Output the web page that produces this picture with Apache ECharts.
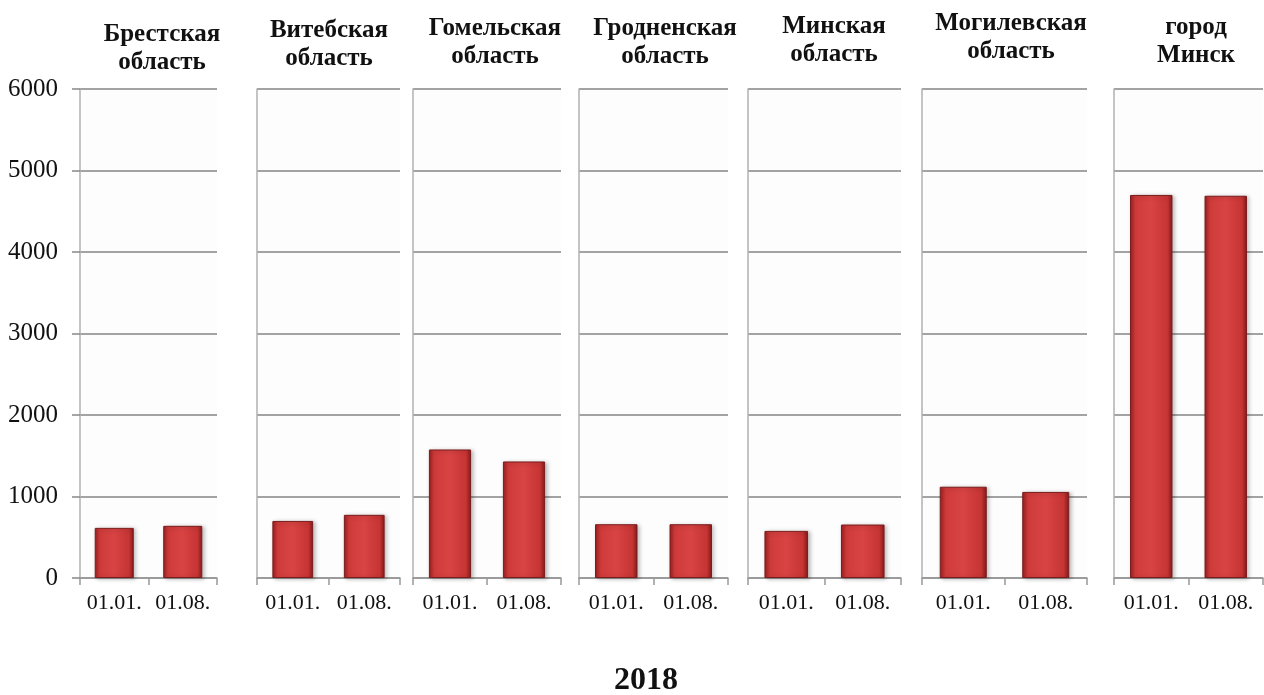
<!DOCTYPE html>
<html>
<head>
<meta charset="utf-8">
<script src="https://cdn.jsdelivr.net/npm/echarts@6/dist/echarts.min.js"></script>
<style>
  html, body { margin: 0; padding: 0; background: #fff; }
  #chart { width: 1264px; height: 695px; }
</style>
</head>
<body>
<div id="chart"></div>
<script>
const regions = ['Брестская\nобласть', 'Витебская\nобласть', 'Гомельская\nобласть', 'Гродненская\nобласть', 'Минская\nобласть', 'Могилевская\nобласть', 'город\nМинск']
const dates = ['01.01.', '01.08.']
const jan = [615, 700, 1577, 660, 578, 1120, 4700]
const aug = [640, 775, 1430, 660, 656, 1056, 4690]
const yTicks = [0, 1000, 2000, 3000, 4000, 5000, 6000]
const yearLabel = '2018'

// panel positions (px)
const panels = [[80, 217], [257, 400], [413, 561], [579, 728], [748, 901], [922, 1087], [1114, 1263]]
const titleX = [157, 324, 490, 660, 829, 1006, 1191]
const titleY = [16, 12, 10, 10, 8, 5, 9]

const serif = '"Liberation Serif", "Times New Roman", serif'
const chart = echarts.init(document.getElementById('chart'))

const barColor = new echarts.graphic.LinearGradient(0, 0, 1, 0, [
  { offset: 0, color: '#9a1e1e' },
  { offset: 0.12, color: '#cf3a3a' },
  { offset: 0.5, color: '#d84343' },
  { offset: 0.88, color: '#c63434' },
  { offset: 1, color: '#861919' }
])

const grids = [], xAxes = [], yAxes = [], series = [], titles = []
panels.forEach((p, i) => {
  grids.push({
    left: p[0], width: p[1] - p[0], top: 89, bottom: 117,
    show: true, backgroundColor: '#fdfdfd', borderWidth: 0
  })
  xAxes.push({
    type: 'category', gridIndex: i, data: dates,
    axisLine: { lineStyle: { color: '#999', width: 1.5 } },
    axisTick: { show: true, length: 7, lineStyle: { color: '#999', width: 1.5 } },
    axisLabel: { interval: 0, hideOverlap: false, color: '#111', fontFamily: serif, fontSize: 22, margin: 14 }
  })
  yAxes.push({
    type: 'value', gridIndex: i, min: yTicks[0], max: yTicks[yTicks.length - 1], interval: 1000,
    axisLine: { show: true, lineStyle: { color: '#b0b0b0', width: 1.5 } },
    axisTick: { show: i === 0, length: 8, lineStyle: { color: '#888', width: 1.5 } },
    axisLabel: { show: i === 0, color: '#111', fontFamily: serif, fontSize: 25, margin: 22, formatter: v => String(v) },
    splitLine: { show: true, lineStyle: { color: '#848484', width: 1.5 } }
  })
  series.push({
    type: 'bar', xAxisIndex: i, yAxisIndex: i,
    data: [jan[i], aug[i]],
    barWidth: '57%',
    itemStyle: {
      color: barColor, borderColor: '#7a1c1c', borderWidth: 1,
      shadowBlur: 4, shadowColor: 'rgba(0,0,0,0.25)', shadowOffsetX: 2, shadowOffsetY: 1
    }
  })
  titles.push({
    text: regions[i], left: titleX[i], top: titleY[i], textAlign: 'center',
    textStyle: { fontFamily: serif, fontWeight: 'bold', fontSize: 25, lineHeight: 28, color: '#111' }
  })
})
titles.push({
  text: yearLabel, left: 641, top: 660, textAlign: 'center',
  textStyle: { fontFamily: serif, fontWeight: 'bold', fontSize: 32, color: '#111' }
})

chart.setOption({
  animation: false,
  title: titles,
  grid: grids,
  xAxis: xAxes,
  yAxis: yAxes,
  series: series
})
</script>
</body>
</html>
